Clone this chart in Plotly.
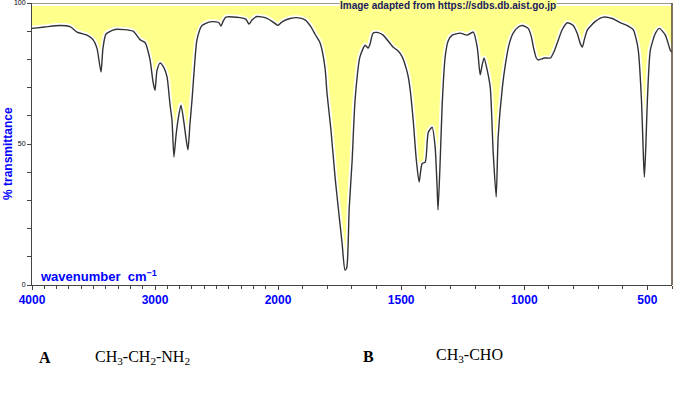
import plotly.graph_objects as go

# IR spectrum (wavenumber in cm-1, % transmittance)
wavenumber = [4000, 3894, 3772, 3691, 3634, 3553, 3504, 3472, 3439, 3423, 3398, 3325, 3179, 3122,
              3081, 3041, 3016, 3000, 2984, 2959, 2927, 2902, 2878, 2862, 2846, 2829, 2813, 2789,
              2764, 2748, 2732, 2716, 2699, 2675, 2659, 2618, 2553, 2504, 2480, 2463, 2447, 2423,
              2309, 2260, 2236, 2211, 2171, 2098, 2049, 2000,
              1980, 1951, 1923, 1890, 1866, 1850, 1829, 1809, 1801, 1785, 1768, 1756, 1740, 1728,
              1721, 1711, 1699, 1687, 1667, 1646, 1634, 1626, 1614, 1593, 1573, 1533, 1512, 1496,
              1480, 1471, 1463, 1451, 1439, 1427, 1415, 1402, 1390, 1374, 1362, 1354, 1350, 1341,
              1333, 1321, 1309, 1293, 1260, 1232, 1207, 1191, 1179, 1171, 1163, 1150, 1138, 1126,
              1114, 1106, 1089, 1077, 1061, 1045, 1024, 1008, 984, 971, 963, 951, 943, 918, 894,
              878, 866, 846, 825, 801, 784, 772, 764, 756, 744, 711, 679, 643, 610, 582, 557, 545,
              537, 524, 516, 512, 506, 500, 488, 467, 451, 427, 407, 400]
transmittance = [91, 91.5, 92, 91.6, 89.7, 88.6, 87, 84, 75.5, 84, 89, 90.6, 90, 87,
                 86, 80, 72, 69, 76, 78.7, 77, 73.8, 64, 58.5, 45.4, 53, 58.5, 63.8,
                 57.4, 52, 47.9, 57, 65.6, 80, 86.9, 92, 93.3, 93.3, 93, 91.8, 93.5, 95,
                 94.8, 94.2, 92.5, 94, 95.2, 94.7, 93.5, 92,
                 93.5, 94.5, 94.8, 94, 91.5, 89, 85.8, 77, 68, 55, 38, 28, 15, 5.3,
                 6, 27, 44, 65.6, 81, 85, 84, 85.5, 89.3, 89.5, 88.6, 84.4, 83, 81,
                 77, 73.8, 69, 58.5, 45, 36.5, 43, 43.6, 54, 56, 49, 35, 26.6, 45,
                 64.5, 81, 86.5, 88.6, 89.3, 88.6, 89.7, 84.4, 74.5, 78, 80.5, 76, 70, 46.8,
                 31.2, 52.5, 70, 78, 85.5, 89.3, 91.5, 92, 91, 88, 84.4, 80.5, 79.8, 80.5, 80.5,
                 83, 85.8, 90.5, 93, 92, 89, 85.5, 84.4, 87, 90.4, 93.5, 95, 94.5, 93, 92, 90.5, 87,
                 83.3, 65.6, 45, 38.3, 50, 65.6, 83.3, 89.3, 91, 88.6, 83.3, 82.5]

left_ticks = [4000, 3000, 2000]
right_ticks = [1500, 1000, 500]
y_ticks = list(range(0, 101, 10))
y_labels = ["0" if v == 0 else "50" if v == 50 else "100" if v == 100 else "" for v in y_ticks]

YELLOW = "#FFFF8C"
BLUE = "#0000FF"
FILL_TOP = 98.9

fig = go.Figure()

for axis, cond in (("x", lambda w: w >= 2000), ("x2", lambda w: w <= 2000)):
    xs = [w for w in wavenumber if cond(w)]
    ys = [t for w, t in zip(wavenumber, transmittance) if cond(w)]
    fig.add_trace(go.Scatter(x=xs, y=[FILL_TOP] * len(xs), mode="lines", line=dict(width=0),
                             xaxis=axis, yaxis="y", showlegend=False, hoverinfo="skip"))
    fig.add_trace(go.Scatter(x=xs, y=ys, mode="lines", fill="tonexty", fillcolor=YELLOW,
                             line=dict(color="white", width=5, shape="spline", smoothing=0.6),
                             xaxis=axis, yaxis="y", showlegend=False, hoverinfo="skip"))
    fig.add_trace(go.Scatter(x=xs, y=ys, mode="lines",
                             line=dict(color="#333333", width=1.4, shape="spline", smoothing=0.6),
                             xaxis=axis, yaxis="y", showlegend=False))

split = 246 / 640
tickfont = dict(family="Liberation Sans, Arial", size=12, color=BLUE, weight="bold")
common_x = dict(showline=True, linecolor="#444444", linewidth=1, ticks="outside", ticklen=4,
                tickcolor="#444444", showgrid=False, zeroline=False, anchor="y",
                tickfont=tickfont, automargin=False, ticklabeloverflow="allow",
                minor=dict(dtick=100, tick0=0, ticks="outside", ticklen=3, tickcolor="#444444"))

fig.update_layout(
    width=694, height=395,
    margin=dict(l=32, r=22, t=3, b=110),
    paper_bgcolor="white", plot_bgcolor="white",
    xaxis=dict(domain=[0, split], range=[4000, 2000], tickvals=left_ticks,
               ticktext=[str(v) for v in left_ticks], **common_x),
    xaxis2=dict(domain=[split, 1], range=[2000, 400], tickvals=right_ticks,
                ticktext=[str(v) for v in right_ticks], **common_x),
    yaxis=dict(range=[0, 100], domain=[0, 1], tickvals=y_ticks, ticktext=y_labels,
               ticks="outside", ticklen=4, tickcolor="#444444", showline=True,
               linecolor="#444444", linewidth=1, showgrid=False, zeroline=False,
               tickfont=dict(family="Liberation Sans, Arial", size=7, color="black"),
               anchor="x", automargin=False, ticklabeloverflow="allow"),
    shapes=[
        dict(type="line", xref="paper", yref="y", x0=0, x1=1, y0=100, y1=100,
             line=dict(color="#333333", width=1)),
        dict(type="line", xref="paper", yref="y", x0=1, x1=1, y0=0, y1=100,
             line=dict(color="#554433", width=1.5)),
    ],
    annotations=[
        dict(text="Image adapted from https://sdbs.db.aist.go.jp", xref="paper", yref="paper",
             x=(448 - 32) / 640, y=(285 - 5) / 282, xanchor="center", yanchor="middle",
             showarrow=False, bgcolor=YELLOW, borderpad=0,
             font=dict(family="Liberation Sans, Arial", size=10, color="#1a1a5e", weight="bold")),
        dict(text="wavenumber  cm<sup>−1</sup>", xref="paper", yref="paper",
             x=(38 - 32) / 640, y=(285 - 276) / 282, xanchor="left", yanchor="middle",
             showarrow=False,
             font=dict(family="Liberation Sans, Arial", size=13, color=BLUE, weight="bold")),
        dict(text="% transmittance", xref="paper", yref="paper", x=(8 - 32) / 640,
             y=(285 - 154) / 282, xanchor="center", yanchor="middle",
             textangle=-90, showarrow=False,
             font=dict(family="Liberation Sans, Arial", size=12, color=BLUE, weight="bold")),
        dict(text="A", xref="paper", yref="paper", x=(45 - 32) / 640, y=(285 - 358) / 282,
             xanchor="center", yanchor="middle", showarrow=False,
             font=dict(family="Liberation Serif, Times New Roman", size=16, color="black",
                       weight="bold")),
        dict(text="CH<sub>3</sub>-CH<sub>2</sub>-NH<sub>2</sub>", xref="paper", yref="paper",
             x=(93 - 32) / 640, y=(285 - 358) / 282, xanchor="left", yanchor="middle",
             showarrow=False,
             font=dict(family="Liberation Serif, Times New Roman", size=16, color="black")),
        dict(text="B", xref="paper", yref="paper", x=(368 - 32) / 640, y=(285 - 356) / 282,
             xanchor="center", yanchor="middle", showarrow=False,
             font=dict(family="Liberation Serif, Times New Roman", size=16, color="black",
                       weight="bold")),
        dict(text="CH<sub>3</sub>-CHO", xref="paper", yref="paper",
             x=(434 - 32) / 640, y=(285 - 355) / 282, xanchor="left", yanchor="middle",
             showarrow=False,
             font=dict(family="Liberation Serif, Times New Roman", size=16, color="black")),
    ],
)

fig.write_html("out.html", config={"displayModeBar": False},
               post_script="document.body.style.margin='0px';")
